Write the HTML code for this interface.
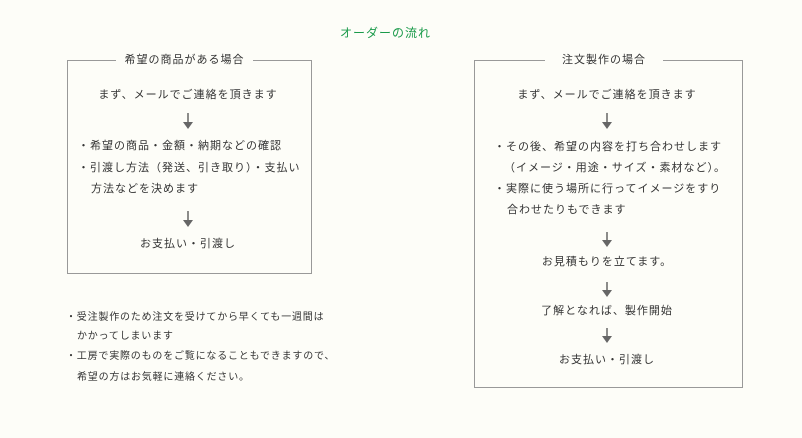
<!DOCTYPE html>
<html><head><meta charset="utf-8"><style>
body{margin:0;background:#fdfdf8;}
#c{position:relative;width:802px;height:438px;overflow:hidden;font-family:"Liberation Sans","Noto Sans CJK JP",sans-serif;color:#333;}
.t{position:absolute;white-space:nowrap;font-size:11px;letter-spacing:1px;line-height:14px;}
.cn{transform:translateX(-50%);}
.n{font-size:10px;letter-spacing:0.8px;}
.box{position:absolute;border:1px solid #999;}
.lab{position:absolute;background:#fdfdf8;text-align:center;font-size:11px;letter-spacing:1px;line-height:14px;white-space:nowrap;}
</style></head><body><div id="c">
<div class="t" style="left:340px;top:26px;color:#1a9a4a;font-size:12px;">オーダーの流れ</div>

<div class="box" style="left:67px;top:60px;width:243px;height:212px;"></div>
<div class="lab" style="left:116px;top:53px;width:137px;">希望の商品がある場合</div>
<div class="t cn" style="left:188px;top:88px;">まず、メールでご連絡を頂きます</div>
<div class="t" style="left:78px;top:139px;">・希望の商品・金額・納期などの確認</div>
<div class="t" style="left:78px;top:161px;">・引渡し方法（発送、引き取り）・支払い</div>
<div class="t" style="left:91px;top:182px;">方法などを決めます</div>
<div class="t cn" style="left:188px;top:237px;">お支払い・引渡し</div>

<div class="box" style="left:474px;top:60px;width:267px;height:326px;"></div>
<div class="lab" style="left:545px;top:53px;width:118px;">注文製作の場合</div>
<div class="t cn" style="left:607px;top:88px;">まず、メールでご連絡を頂きます</div>
<div class="t" style="left:494px;top:140px;">・その後、希望の内容を打ち合わせします</div>
<div class="t" style="left:504px;top:161px;">（イメージ・用途・サイズ・素材など）。</div>
<div class="t" style="left:494px;top:182px;">・実際に使う場所に行ってイメージをすり</div>
<div class="t" style="left:507px;top:203px;">合わせたりもできます</div>
<div class="t cn" style="left:607px;top:255px;">お見積もりを立てます。</div>
<div class="t cn" style="left:607px;top:304px;">了解となれば、製作開始</div>
<div class="t cn" style="left:607px;top:353px;">お支払い・引渡し</div>

<div class="t n" style="left:66px;top:311px;">・受注製作のため注文を受けてから早くても一週間は</div>
<div class="t n" style="left:77px;top:330px;">かかってしまいます</div>
<div class="t n" style="left:66px;top:350px;">・工房で実際のものをご覧になることもできますので、</div>
<div class="t n" style="left:77px;top:371px;">希望の方はお気軽に連絡ください。</div>

<svg width="802" height="438" style="position:absolute;left:0;top:0" fill="#666" stroke="#666">
<g stroke-width="1.5">
<line x1="188" y1="113" x2="188" y2="124"/><line x1="188" y1="211" x2="188" y2="222"/>
<line x1="607" y1="113" x2="607" y2="124"/><line x1="607" y1="232" x2="607" y2="242"/>
<line x1="607" y1="282" x2="607" y2="292"/><line x1="607" y1="328" x2="607" y2="338"/>
</g>
<g stroke="none">
<polygon points="183,122 193,122 188,129"/><polygon points="183,220 193,220 188,227"/>
<polygon points="602,122 612,122 607,129"/><polygon points="602,240 612,240 607,247"/>
<polygon points="602,290 612,290 607,297"/><polygon points="602,336 612,336 607,343"/>
</g>
</svg>
</div></body></html>
